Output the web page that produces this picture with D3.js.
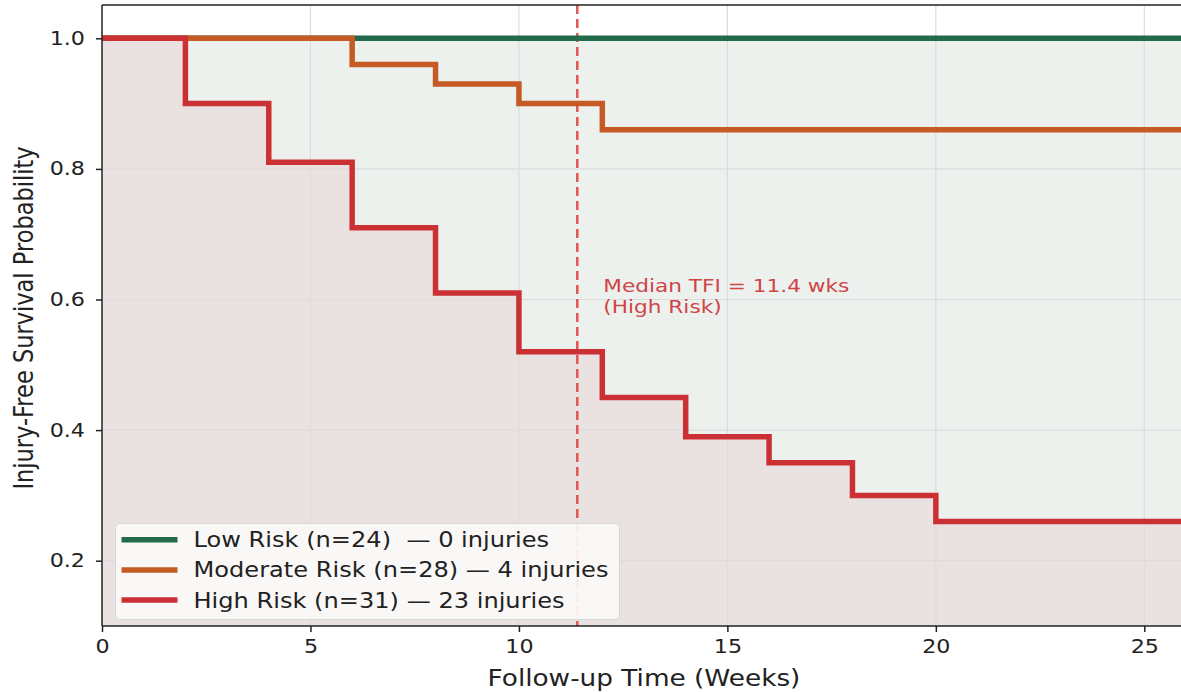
<html>
<head>
  <title>Injury-free survival</title>
  <script src="https://d3js.org/d3.v7.min.js"></script>
  <style>
    body { margin: 0; background: #fff; font-family: "DejaVu Sans", sans-serif; }
    text { white-space: pre; }
    .grid line { stroke: #dcdcdc; stroke-width: 1.2; }
    .axis text { font-size: 19px; fill: #222; font-family: "DejaVu Sans", sans-serif; }
    .axis path, .axis line { stroke: #222; stroke-width: 1.5; }
  </style>
</head>
<body>
<script>
  // step times (weeks) and survival after each step
  var lowTimes = [0, 26];
  var lowSurv = [1.0, 1.0];
  var modTimes = [0, 6, 8, 10, 12, 26];
  var modSurv = [1.0, 0.96, 0.93, 0.90, 0.86, 0.86];
  var highTimes = [0, 2, 4, 6, 8, 10, 12, 14, 16, 18, 20, 26];
  var highSurv = [1.0, 0.90, 0.81, 0.71, 0.61, 0.52, 0.45, 0.39, 0.35, 0.30, 0.26, 0.26];
  var labels = ["Low Risk (n=24)  \u2014 0 injuries", "Moderate Risk (n=28) \u2014 4 injuries", "High Risk (n=31) \u2014 23 injuries"];
  var colors = ["#236a4b", "#c55a24", "#cb3134"];
  var xTicks = [0, 5, 10, 15, 20, 25];
  var yTicks = [0.2, 0.4, 0.6, 0.8, 1.0];
  var medianTFI = 11.4;

  var width = 1181, height = 692;
  var pLeft = 102, pTop = 5, pRight = 1186, pBottom = 626;
  var sx = 1.17; // picture is stretched sideways, text too

  var svg = d3.select("body").append("svg")
    .attr("width", width).attr("height", height);

  var x = d3.scaleLinear().domain([0, 26]).range([pLeft, pRight]);
  var y = d3.scaleLinear().domain([0.1, 1.051]).range([pBottom, pTop]);

  function pts(t, s) { return t.map(function(d, i) { return [d, s[i]]; }); }
  var series = [pts(lowTimes, lowSurv), pts(modTimes, modSurv), pts(highTimes, highSurv)];

  // text placed at (px,py) and stretched sideways
  function label(px, py, str, size, color, anchor) {
    return svg.append("g").attr("transform", "translate(" + px + "," + py + ") scale(" + sx + ",1)")
      .append("text").attr("text-anchor", anchor || "start")
      .style("font-size", size + "px").attr("fill", color).text(str);
  }

  var area = d3.area().curve(d3.curveStepAfter)
    .x(function(d) { return x(d[0]); })
    .y0(y(0.1)).y1(function(d) { return y(d[1]); });
  var line = d3.line().curve(d3.curveStepAfter)
    .x(function(d) { return x(d[0]); })
    .y(function(d) { return y(d[1]); });

  // fills under curves
  svg.append("path").datum(series[0]).attr("d", area).attr("fill", "#edf1ee");
  svg.append("path").datum(series[2]).attr("d", area).attr("fill", "#eae2e0");

  // grid
  var grid = svg.append("g").attr("class", "grid");
  grid.selectAll(".gx").data(xTicks.slice(1)).enter().append("line")
    .attr("x1", x).attr("x2", x).attr("y1", pTop).attr("y2", pBottom);
  grid.selectAll(".gy").data(yTicks).enter().append("line")
    .attr("x1", pLeft).attr("x2", pRight).attr("y1", y).attr("y2", y);

  // median line
  svg.append("line")
    .attr("x1", x(medianTFI)).attr("x2", x(medianTFI))
    .attr("y1", pTop).attr("y2", pBottom)
    .attr("stroke", "#e05555").attr("stroke-width", 2.5)
    .attr("stroke-dasharray", "9,5");

  label(x(medianTFI) + 26, 292, "Median TFI = " + medianTFI + " wks", 18.5, "#d04448");
  label(x(medianTFI) + 26, 313, "(High Risk)", 18.5, "#d04448");

  // curves
  series.forEach(function(s, i) {
    svg.append("path").datum(s).attr("d", line)
      .attr("fill", "none").attr("stroke", colors[i])
      .attr("stroke-width", 5.5).attr("stroke-linejoin", "miter");
  });

  // axes
  var gx = svg.append("g").attr("class", "axis")
    .attr("transform", "translate(0," + pBottom + ")")
    .call(d3.axisBottom(x).tickValues(xTicks).tickSize(6).tickPadding(8).tickFormat(d3.format("d")));
  gx.select(".domain").remove();
  gx.selectAll("text").attr("transform", "scale(" + sx + ",1)");

  var gy = svg.append("g").attr("class", "axis")
    .attr("transform", "translate(" + pLeft + ",0)")
    .call(d3.axisLeft(y).tickValues(yTicks).tickSize(6).tickPadding(10).tickFormat(d3.format(".1f")));
  gy.select(".domain").remove();
  gy.selectAll("text").attr("x", -17 / sx).attr("transform", "scale(" + sx + ",1)");

  // spines
  svg.append("line").attr("x1", pLeft).attr("x2", pLeft).attr("y1", pTop).attr("y2", pBottom)
    .attr("stroke", "#222").attr("stroke-width", 1.5);
  svg.append("line").attr("x1", pLeft).attr("x2", pRight).attr("y1", pBottom).attr("y2", pBottom)
    .attr("stroke", "#222").attr("stroke-width", 1.5);
  svg.append("line").attr("x1", pLeft).attr("x2", pRight).attr("y1", pTop).attr("y2", pTop)
    .attr("stroke", "#222").attr("stroke-width", 1.5);

  // axis titles
  label(644, 686, "Follow-up Time (Weeks)", 22.5, "#222", "middle");
  svg.append("g").attr("transform", "translate(33," + 318 + ") rotate(-90) scale(1," + sx + ")")
    .append("text").attr("text-anchor", "middle").style("font-size", "22.5px").attr("fill", "#222")
    .text("Injury-Free Survival Probability");

  // legend
  var lg = svg.append("g").attr("transform", "translate(115.5,523.5)");
  lg.append("rect").attr("width", 504).attr("height", 96).attr("rx", 4)
    .attr("fill", "#fbfaf9").attr("fill-opacity", 0.92)
    .attr("stroke", "#d6d6d6").attr("stroke-width", 1);
  labels.forEach(function(t, i) {
    var yy = 16.2 + i * 30.2;
    lg.append("line").attr("x1", 6).attr("x2", 62).attr("y1", yy).attr("y2", yy)
      .attr("stroke", colors[i]).attr("stroke-width", 5.5);
    lg.append("g").attr("transform", "translate(78," + (yy + 7.5) + ") scale(" + sx + ",1)")
      .append("text").style("font-size", "20.6px").attr("fill", "#222").text(t);
  });
</script>
</body>
</html>
